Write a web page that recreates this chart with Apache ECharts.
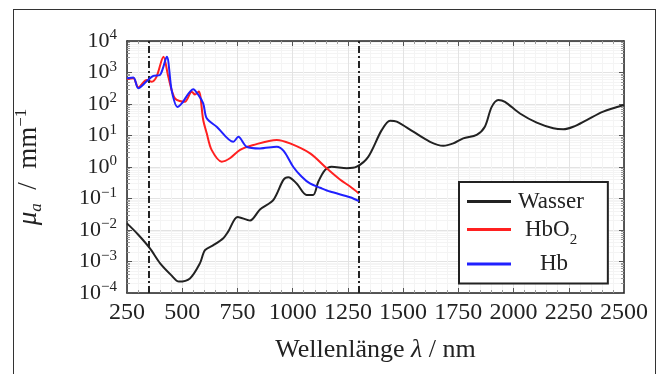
<!DOCTYPE html>
<html>
<head>
<meta charset="utf-8">
<script src="https://cdn.jsdelivr.net/npm/echarts@6/dist/echarts.min.js"></script>
<style>
  html, body { margin: 0; padding: 0; background: #fff; }
  #wrap { position: relative; width: 657px; height: 374px; overflow: hidden; }
  #frame { position: absolute; left: 13px; top: 9px; width: 641px; height: 400px; border: 1.5px solid #333; }
  #chart { position: absolute; left: 0; top: 0; width: 657px; height: 374px; }
</style>
</head>
<body>
<div id="wrap">
  <div id="frame"></div>
  <div id="chart"></div>
</div>
<script>
// absorption coefficient mu_a in 1/mm
const waterLambda = [250, 300, 354, 400, 450, 485, 535, 580, 603, 641, 686, 708, 751, 807, 852, 912, 958, 980, 1018, 1063, 1093, 1116, 1146, 1176, 1245, 1290, 1342, 1403, 1441, 1471, 1546, 1622, 1682, 1727, 1772, 1833, 1870, 1901, 1931, 1961, 2029, 2105, 2180, 2225, 2270, 2331, 2406, 2500];
const waterMu = [0.0162, 0.0072, 0.0026, 0.00087, 0.00037, 0.00023, 0.00029, 0.00087, 0.0023, 0.0033, 0.0055, 0.0089, 0.026, 0.020, 0.045, 0.089, 0.39, 0.47, 0.30, 0.13, 0.13, 0.34, 0.8, 1.02, 0.91, 1.02, 2.1, 14.8, 29.5, 27.5, 13.2, 6.3, 4.7, 5.6, 8.1, 10.5, 19, 81, 135, 117, 50, 25.7, 17, 15.8, 19, 31, 57.5, 93];

const hbo2Lambda = [250, 279, 301, 339, 362, 384, 415, 437, 467, 512, 543, 558, 575, 595, 611, 633, 679, 716, 762, 822, 928, 988, 1079, 1154, 1214, 1260, 1300];
const hbo2Mu = [617, 660, 339, 575, 513, 741, 3160, 740, 151, 117, 245, 200, 250, 31, 11.7, 3.5, 1.48, 1.9, 3.5, 5.0, 7.2, 5.6, 2.7, 0.91, 0.4, 0.24, 0.145];

const hbLambda = [250, 279, 301, 339, 369, 399, 430, 452, 478, 498, 550, 573, 595, 611, 656, 731, 754, 792, 852, 928, 960, 1003, 1040, 1078, 1124, 1169, 1260, 1300];
const hbMu = [660, 690, 316, 525, 776, 832, 3160, 275, 81, 105, 295, 195, 105, 35, 19, 6.3, 9.1, 4.4, 3.9, 4.4, 3.2, 1.0, 0.5, 0.3, 0.22, 0.166, 0.11, 0.083];

const markerLambda = [350, 1300];
const xTicks = { min: 250, max: 2500, step: 250 };
const yDecades = { min: -4, max: 4 };

const serif = '"Liberation Serif", "DejaVu Serif", serif';
const pair = (xs, ys) => xs.map((x, i) => [x, ys[i]]);

const supLabel = (value) => {
  const e = Math.round(Math.log10(value));
  return '{b|10}{s|' + (e < 0 ? '\u2212' + (-e) : e) + '}';
};

const chart = echarts.init(document.getElementById('chart'), null, { renderer: 'canvas' });

const tickStyle = { show: true, inside: true, length: 5, lineStyle: { color: '#555' } };
const minorTickStyle = (n) => ({ show: true, splitNumber: n, length: 3, lineStyle: { color: '#999' } });

const xBase = {
  type: 'value',
  min: xTicks.min,
  max: xTicks.max,
  interval: xTicks.step,
  axisLine: { show: true, onZero: false, lineStyle: { color: '#222', width: 1.5 } },
  axisTick: tickStyle,
  minorTick: minorTickStyle(5),
};

const yBase = {
  type: 'log',
  logBase: 10,
  min: Math.pow(10, yDecades.min),
  max: Math.pow(10, yDecades.max),
  interval: 1,
  axisLine: { show: true, lineStyle: { color: '#222', width: 1.5 } },
  axisTick: tickStyle,
  minorTick: minorTickStyle(9),
};

const legendNames = {
  Wasser: '{p1|}{n|Wasser}',
  HbO2: '{p2|}{n|HbO}{sub|2}',
  Hb: '{p3|}{n|Hb}',
};

chart.setOption({
  animation: false,
  textStyle: { fontFamily: serif },
  grid: { left: 127, top: 41, right: 33, bottom: 81, containLabel: false },
  legend: {
    data: ['Wasser', 'HbO2', 'Hb'],
    orient: 'vertical',
    left: 459,
    top: 182,
    width: 149,
    padding: [8, 24, 8, 8],
    itemGap: 5,
    itemWidth: 44,
    itemHeight: 3,
    icon: 'rect',
    backgroundColor: '#fff',
    borderColor: '#222',
    borderWidth: 2,
    z: 10,
    formatter: (name) => legendNames[name],
    textStyle: {
      fontFamily: serif,
      fontSize: 23,
      color: '#222',
      rich: {
        p1: { width: 2 },
        p2: { width: 9 },
        p3: { width: 24 },
        n: { fontFamily: serif, fontSize: 23, color: '#222', lineHeight: 24 },
        sub: { fontFamily: serif, fontSize: 15, color: '#222', verticalAlign: 'bottom', lineHeight: 24, padding: [0, 0, -6, 0] },
      },
    },
  },
  xAxis: [
    Object.assign({}, xBase, {
      position: 'bottom',
      name: '{n|Wellenlänge }{i|λ}{n| / nm}',
      nameLocation: 'middle',
      nameGap: 44,
      nameTextStyle: {
        rich: {
          n: { fontFamily: serif, fontSize: 26, color: '#222' },
          i: { fontFamily: serif, fontSize: 26, color: '#222', fontStyle: 'italic' },
        },
      },
      axisLabel: { fontFamily: serif, fontSize: 24, color: '#222', margin: 8, formatter: (v) => String(v) },
      splitLine: { show: true, lineStyle: { color: '#e3e3e3', width: 1 } },
      minorSplitLine: { show: true, lineStyle: { color: '#f4f4f4', width: 1 } },
    }),
    Object.assign({}, xBase, {
      position: 'top',
      axisLabel: { show: false },
      splitLine: { show: false },
    }),
  ],
  yAxis: [
    Object.assign({}, yBase, {
      position: 'left',
      name: '{i|μ}{sub|a}{n|  /  mm}{sup|\u22121}',
      nameLocation: 'middle',
      nameGap: 82,
      nameRotate: 90,
      nameTextStyle: {
        rich: {
          i: { fontFamily: serif, fontSize: 27, color: '#222', fontStyle: 'italic', verticalAlign: 'middle', lineHeight: 32 },
          sub: { fontFamily: serif, fontSize: 17, color: '#222', fontStyle: 'italic', verticalAlign: 'bottom', lineHeight: 32 },
          n: { fontFamily: serif, fontSize: 27, color: '#222', verticalAlign: 'middle', lineHeight: 32 },
          sup: { fontFamily: serif, fontSize: 17, color: '#222', verticalAlign: 'top', lineHeight: 32 },
        },
      },
      axisLabel: {
        margin: 10,
        formatter: supLabel,
        rich: {
          b: { fontFamily: serif, fontSize: 22, color: '#222', verticalAlign: 'middle', lineHeight: 26 },
          s: { fontFamily: serif, fontSize: 15, color: '#222', verticalAlign: 'top', lineHeight: 26 },
        },
      },
      splitLine: { show: true, lineStyle: { color: '#e3e3e3', width: 1 } },
      minorSplitLine: { show: true, lineStyle: { color: '#f4f4f4', width: 1 } },
    }),
    Object.assign({}, yBase, {
      position: 'right',
      axisLabel: { show: false },
      splitLine: { show: false },
    }),
  ],
  series: [
    {
      name: 'Wasser',
      type: 'line',
      data: pair(waterLambda, waterMu),
      showSymbol: false,
      smooth: 0.3,
      color: '#222',
      lineStyle: { width: 2, color: '#222' },
      z: 3,
      markLine: {
        silent: true,
        symbol: 'none',
        label: { show: false },
        lineStyle: { color: '#222', width: 2, type: [7, 3, 2, 3] },
        data: markerLambda.map((v) => ({ xAxis: v })),
      },
    },
    {
      name: 'HbO2',
      type: 'line',
      data: pair(hbo2Lambda, hbo2Mu),
      showSymbol: false,
      smooth: 0.3,
      color: '#ff2020',
      lineStyle: { width: 2, color: '#ff2020' },
      z: 4,
    },
    {
      name: 'Hb',
      type: 'line',
      data: pair(hbLambda, hbMu),
      showSymbol: false,
      smooth: 0.3,
      color: '#2020ff',
      lineStyle: { width: 2, color: '#2020ff' },
      z: 5,
    },
  ],
});
</script>
</body>
</html>
